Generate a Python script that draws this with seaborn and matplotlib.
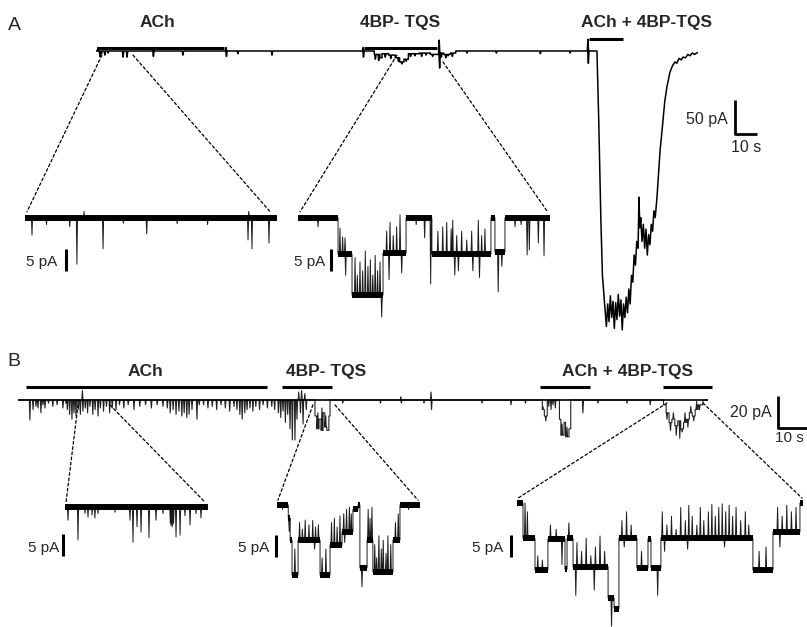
import matplotlib
matplotlib.use("Agg")
import matplotlib.pyplot as plt
from matplotlib.patches import ConnectionPatch
import numpy as np
import pandas as pd
import seaborn as sns

# ---------------- data (time in s, current in pA) ----------------
# panel A, whole recording
a_step_t = [0, 126.5, 129, 130, 133, 136, 138, 140, 142, 147, 152, 156.5, 158, 161, 163.5]
a_step_i = [0, -5, -10, -4, -6, -10, -16, -12, -4, -3, -5, -3, -5, -3, 0]
a_end = 227.7
a_spike_t = [0.9, 1.8, 2.5, 4, 5.5, 12.3, 14.1, 25.9, 26.1, 39.5, 59.1, 59.3, 64.5, 80, 121.4, 121.6,
             127, 128.5, 131.5, 134, 137.5, 139, 141, 143, 145, 148, 150, 153, 156, 156.2,
             157, 159, 160, 162, 168.6, 182, 202, 215.5, 223.6, 223.8]
a_spike_i = [5, -8, -4, -6, -3, -9, -9, 5, -8, -6, 5, -8, -4, -6, 5, -9,
             -12, -14, -9, -11, -15, -19, -15, -8, -7, -8, -6, -8, 16, -25,
             -9, -10, -7, -8, -3, -3, -4, -3, 17, -18]
# macroscopic response to ACh + 4BP-TQS
a_resp_t = [227.7, 228.5, 229.5, 230.2, 231.0, 231.5, 232.0, 232.6, 233.2, 233.8, 234.4, 235.0, 235.6,
            236.2, 236.8, 237.4, 238.0, 238.6, 239.2, 239.8, 240.4, 241.0, 241.6, 242.2, 242.8, 243.4,
            244.0, 244.6, 245.2, 245.8, 246.4, 246.8, 247.2, 247.6, 248.2, 248.8, 249.4, 250.0, 250.6,
            251.2, 251.8, 252.4, 253.0, 253.6, 254.2, 255.0, 255.8, 256.4, 257.5, 258.5, 259.5, 260.9,
            262.0, 263.2, 264.0, 265.0, 266.0, 266.8, 268.0, 269.0, 270.0, 271.0, 272.0, 273.6]
a_resp_i = [0, -100, -250, -330, -365, -385, -405, -372, -398, -360, -392, -368, -408,
            -370, -395, -358, -390, -366, -410, -372, -392, -362, -385, -350, -372, -330,
            -340, -300, -315, -280, -290, -215, -260, -245, -280, -255, -290, -262, -300,
            -270, -285, -255, -265, -235, -245, -215, -175, -146, -110, -75, -53, -31,
            -22, -16, -18, -11, -13, -9, -10, -5, -7, -3, -5, -2]
a_drug_on = [0.9, 121.8, 224.1]
a_drug_off = [58.2, 155, 239.5]
a_drug_y = [4.4, 4.4, 17.2]
a_labels = ["ACh", "4BP- TQS", "ACh + 4BP-TQS"]
a_label_t = [27.7, 138.2, 250.2]

# panel A inset 1 (ACh)
a1_step_t, a1_step_i, a1_end = [0], [0], 14.1
a1_spike_t = [0.39, 1.2, 2.5, 2.9, 3.3, 4.36, 5.5, 6.8, 8.5, 10.2, 12.46, 12.5, 12.68, 13.63]
a1_spike_i = [-3.9, -1.5, -2, -10.5, 1.5, -7, -1.2, -3.6, -1.3, -1.5, -5, 1.5, -7, -5.7]

# panel A inset 2 (4BP-TQS)
a2_step_t = [0, 3.32, 4.48, 7.05, 8.96, 11.1, 16.0, 16.33, 17.16]
a2_step_i = [0, -8.2, -17.5, -8.0, 0, -8.2, 0, -7.7, 0]
a2_end = 20.9
a2_spike_t = [1.66, 3.48, 3.7, 3.9, 3.95, 4.73, 4.92, 5.14, 5.36, 5.58, 5.8, 6.0, 6.2, 6.4, 6.6, 6.8, 6.94,
              7.35, 7.55, 7.63, 7.9, 8.18, 8.46, 8.6, 9.8, 10.5, 11.0, 11.6, 12.0, 12.33, 12.7, 12.83,
              13.0, 13.16, 13.3, 13.57, 13.99, 14.4, 14.5, 14.95, 15.05, 15.23, 15.5, 16.6, 16.9,
              18.0, 18.5, 19.0, 19.18, 19.93, 20.4]
a2_spike_i = [-2, -2.3, -4.3, -4.5, -13, -9, -13, -10, -12, -7.5, -11, -9.5, -13, -8.5, -12, -10, -22.5,
              -3, -14, -1, -4, -2, 0.7, -12.5, -1.5, -4.5, -15, -3, -2, -1, -2.5, -0.5,
              -13, -4, -12, -3, -5, -3, -12, -0.5, -13.5, -4, -2.5, -16.8, -11,
              -2, -1.5, -8.4, -7.3, -5.7, -8.6]

# panel B, whole recording
b_step_t = [0, 102.4, 103, 103.8, 104.5, 105.2, 105.8, 106.5, 107.2, 107.6, 180.8, 181.5, 182.5,
            186.7, 187.2, 188.3, 188.8, 190.0, 190.6, 222.6, 223.5, 224.5, 225.5, 226.5, 227.5,
            228.5, 229.5, 230.5, 231.5, 232.5, 233.5, 234.5, 236.2]
b_step_i = [0, -10, -18, -12, -19, -8, -17, -19, -10, 0, -6, -10, 0,
            -12, -22, -14, -23, -18, 0, -3, -8, -14, -12, -16, -13,
            -18, -14, -12, -8, -10, -6, -3, 0]
b_end = 237.9
b_spike_t = [4.1, 5.2, 6.2, 6.9, 7.9, 8.6, 9.3, 10.5, 12, 13.5, 15.5, 16.5,
             17, 17.8, 18.6, 19.3, 20, 20.8, 21.5, 22.2, 22.4,
             23.2, 24, 24.8, 25.8, 26.6, 27.6, 28.4, 29.5, 30.5, 31.6, 32.5, 33.8,
             35, 36.5, 38, 40, 42, 44, 46, 48, 50,
             51.5, 52.5, 53.5, 54.5, 55.5, 56.5, 57.3, 58.2, 59, 60, 61.7, 62.5,
             64, 65.5, 67, 68.5, 70, 71.5, 73, 74.5,
             75.5, 76.5, 77.3, 78.2, 79, 80, 81, 82, 83.3, 84.5, 86, 87.5, 88.5,
             89.8, 90.6, 91.4, 92.2, 93, 93.8, 94.6, 95.5, 96.2, 96.8, 97.4, 97.8, 98.3, 98.9, 99.4,
             103.4, 104.8, 106.1, 112, 125, 132, 132.2, 140, 142.4, 142.6, 160, 170, 175,
             181, 182, 183, 183.8, 184.5, 185.3, 187.6, 189.3, 194.8, 200, 210, 218,
             223.8, 225, 226, 227, 228.2, 229, 230, 231, 232, 233, 234, 235]
b_spike_i = [-12.5, -6, -4, -5, -8, -3, -5, -2, -4, -3, -5, -2,
             -6, -9, -12, -8, -10, -6, -9, 6, -7,
             -5, -8, -4, -9, -6, -10, -5, -7, -4, -8, -5, -6,
             -3, -5, -3, -6, -4, -3, -5, -3, -4,
             -5, -8, -6, -9, -7, -10, -8, -11, -9, -6, -12, -3,
             -3, -5, -4, -6, -3, -5, -7, -4,
             -6, -9, -12, -8, -6, -5, -7, -4, -6, -3, -5, -4, -6,
             -8, -11, -7, -14, -9, -18, -25, -25, -12, 5, -8, 6, -15, 4, -6,
             -8, -5, -10, -2, -2, 2, -2, -2, 5, -6, -2, -3, -2,
             -4, -13, -4, -6, -3, -5, -15, -17, -8, -2, -2, -3,
             -12, -19, -8, -22, -24, -20, -8, -17, -4, -13, -1, -6]
b_drug_on = [2.76, 91, 180, 222.4]
b_drug_off = [85.9, 108.3, 197.2, 239.3]
b_labels = ["ACh", "4BP- TQS", "ACh + 4BP-TQS"]
b_label_t = [44.1, 106.2, 210]

# panel B inset 1 (ACh)
b1_step_t, b1_step_i, b1_end = [0], [0], 11.0
b1_spike_t = [0.23, 1.0, 1.54, 1.77, 2.08, 2.3, 2.54, 3.85, 5.0, 5.23, 5.54, 5.85, 6.46, 7.0, 7.54,
              8.1, 8.15, 8.2, 8.25, 8.3, 8.35, 8.54, 8.85, 9.23, 9.62, 10.08, 10.46]
b1_spike_i = [-3, -7.5, -1.5, -2.3, -1.8, -2.5, -1.5, -1.2, -3, -8, -4.5, -5.7, -7, -3, -1.5,
              -3.6, -4.2, -3.8, -4.5, -3.9, -3.6, -6.8, -6.4, -2, -4.1, -1.5, -2.5]

# panel B inset 2 (4BP-TQS)
b2_step_t = [0, 0.6, 0.7, 0.8, 1.12, 2.29, 2.82, 3.46, 4.04, 4.31, 4.41, 4.79, 5.1, 6.17, 6.54]
b2_step_i = [0, -3, -8, -15.9, -8, -15.9, -9.1, -6.1, -1, 0, -14.3, -8, -15.2, -8, 0]
b2_end = 7.6
b2_spike_t = [0.3, 0.65, 0.95, 1.2, 1.35, 1.5, 1.7, 1.9, 2.0, 2.05, 2.2, 2.4, 2.6, 2.9, 3.05, 3.2, 3.35,
              3.55, 3.6, 3.7, 3.85, 3.95, 4.52, 4.85, 4.95, 5.05, 5.2, 5.3, 5.42, 5.55, 5.65, 5.8,
              5.9, 6.05, 6.3, 6.45, 7.0]
b2_spike_i = [-1, -6, -10, -4, -5.5, -3.4, -4.5, -3.5, -10, -5, -4.5, -12, -10, -4, -3, -5, -2.5,
              -2, -8.5, -1, -0.5, -2, -18.6, -1, -3, -0.5, -9, -12, -7, -10, -8, -11,
              -7, -9, -4, -2, -1]

# panel B inset 3 (ACh + 4BP-TQS)
b3_step_t = [0, 0.26, 0.78, 1.34, 2.08, 2.17, 2.43, 3.95, 4.21, 4.42, 5.2, 5.68, 5.81, 6.24,
             10.23, 11.1, 12.27]
b3_step_i = [0, -8, -15.2, -8.2, -15, -8, -14.5, -21.6, -24, -8, -14.8, -8.2, -14.8, -8,
             -15.2, -6.6, 0]
b3_end = 12.4
b3_spike_t = [0.35, 0.45, 0.9, 1.1, 1.45, 1.7, 1.95, 2.25, 2.55, 2.6, 2.8, 3.0, 3.2, 3.35, 3.4, 3.6,
              3.8, 4.1, 4.55, 4.65, 4.75, 4.95, 5.4, 6.1, 6.3, 6.4, 6.5, 6.7, 6.9, 7.1, 7.3, 7.4,
              7.45, 7.6, 7.8, 7.95, 8.1, 8.3, 8.45, 8.6, 8.75, 8.9, 9.0, 9.05, 9.2, 9.35, 9.5,
              9.7, 9.9, 10.05, 10.5, 10.8, 11.3, 11.4, 11.5, 11.7, 11.9, 12.1]
b3_spike_i = [0, -2, -12, -13, -5, -6, -14, -4.5, -21, -9, -11, -8, -12, -19.8, -10, -7.5,
              -11, -28, -4, -10, -2, -5, -11, -21, -2, -11, -5, -3, -6, -1, -4, -10.5,
              -0.5, -3, -5, -1, -4, -2, -0.3, -3, -1, -0.2, -10, -2, -0.5, -3, -1,
              -4, -2, -5, -11, -10, -1, -10, -3, -0.5, -2, -1]

# zoom windows: (start, end) in the whole recording, current where the dashed lines leave
a1_win, a1_win_i = (2.7, 16.8), (-6, -6)
a2_win, a2_win_i = (136.8, 157.7), (-6, -16)
b1_win, b1_win_i = (20.7, 31.7), (-3.1, -3.1)
b2_win, b2_win_i = (101.7, 109.3), (-3.1, -3.1)
b3_win, b3_win_i = (223.8, 236.2), (-1.9, -1.9)

# ---------------- drawing ----------------
sns.set_theme(style="white")
plt.rcParams["font.family"] = ["Liberation Sans", "DejaVu Sans"]

W, H = 807, 627
fig = plt.figure(figsize=(W / 100, H / 100), dpi=100)


def trace_axes(x0, y0, sx, sy, xlim, ylim):
    # x0,y0: pixel where t=0 / I=0 ; sx px per s ; sy px per pA
    left, right = x0 + xlim[0] * sx, x0 + xlim[1] * sx
    top, bottom = y0 - ylim[1] * sy, y0 - ylim[0] * sy
    ax = fig.add_axes([left / W, 1 - bottom / H, (right - left) / W, (bottom - top) / H])
    return ax


def build(step_t, step_i, t_end, spike_t, spike_i, w):
    spikes = sorted(zip(spike_t, spike_i))
    bounds = list(step_t) + [t_end]
    tt, ii = [], []
    for k, lvl in enumerate(step_i):
        a, b = bounds[k], bounds[k + 1]
        tt.append(a); ii.append(lvl)
        for st, si in spikes:
            if a <= st < b:
                tt += [st - w, st, st + w]
                ii += [lvl, si, lvl]
        tt.append(b); ii.append(lvl)
    return tt, ii


def draw_line(ax, t, i, lw, color="black"):
    sns.lineplot(x=t, y=i, ax=ax, sort=False, estimator=None, color=color,
                 linewidth=lw, legend=False, solid_capstyle="butt")


def draw_levels(ax, step_t, step_i, t_end, lw):
    bounds = list(step_t) + [t_end]
    rows = []
    for k, lvl in enumerate(step_i):
        rows.append((bounds[k], lvl, k))
        rows.append((bounds[k + 1], lvl, k))
    df = pd.DataFrame(rows, columns=["t", "i", "seg"])
    sns.lineplot(data=df, x="t", y="i", units="seg", estimator=None, sort=False,
                 color="black", linewidth=lw, legend=False, solid_capstyle="butt")


def finish(ax, xlim, ylim):
    ax.set_xlim(*xlim)
    ax.set_ylim(*ylim)
    ax.set_axis_off()


def inset(x0, y0, sx, xlim, ylim, steps_t, steps_i, t_end, sp_t, sp_i, bar_t, bar_i, txt_t, txt_i):
    ax = trace_axes(x0, y0, sx, 4.4, xlim, ylim)
    t, i = build(steps_t, steps_i, t_end, sp_t, sp_i, 0.6 / sx)
    draw_line(ax, t, i, 0.7, "#1c1c1c")
    draw_levels(ax, steps_t, steps_i, t_end, 4.3)
    ax.plot([bar_t, bar_t], [bar_i, bar_i - 5], color="black", lw=2.2,
            solid_capstyle="butt", clip_on=False)
    ax.text(txt_t, txt_i, "5 pA", ha="right", va="center", fontsize=11)
    finish(ax, xlim, ylim)
    return ax


def connect(ax_main, ax_in, win, win_i, in_t, in_i):
    for k in range(2):
        con = ConnectionPatch(xyA=(win[k], win_i[k]), coordsA="data", axesA=ax_main,
                              xyB=(in_t[k], in_i), coordsB="data", axesB=ax_in,
                              color="black", lw=0.9, linestyle=(0, (2.2, 2.0)))
        fig.add_artist(con)


# ---- panel A ----
ax_a = trace_axes(96, 51, 2.2, 0.68, (0, 302), (-420, 25))
a_t, a_i = build(a_step_t, a_step_i, a_end, a_spike_t, a_spike_i, 0.3)
draw_line(ax_a, a_t + a_resp_t, a_i + a_resp_i, 1.1)
for on, off, y in zip(a_drug_on, a_drug_off, a_drug_y):
    ax_a.plot([on, off], [y, y], color="black", lw=2.2, solid_capstyle="butt", clip_on=False)
for lab, t in zip(a_labels, a_label_t):
    ax_a.text(t, 42.6, lab, ha="center", va="center", fontsize=12.5, fontweight="bold")
ax_a.plot([290.5, 290.5, 300.5], [-72, -122, -122], color="black", lw=2,
          solid_capstyle="butt", clip_on=False)
ax_a.text(287.3, -101, "50 pA", ha="right", va="center", fontsize=11.5)
ax_a.text(295.5, -142.6, "10 s", ha="center", va="center", fontsize=11.5)
finish(ax_a, (0, 302), (-420, 25))

ax_a1 = inset(25, 218, 17.9, (0, 14.1), (-14, 3), a1_step_t, a1_step_i, a1_end,
              a1_spike_t, a1_spike_i, 2.29, -7.0, 1.79, -10)
ax_a2 = inset(298, 218, 12.06, (0, 20.9), (-24, 3), a2_step_t, a2_step_i, a2_end,
              a2_spike_t, a2_spike_i, 2.74, -7.0, 2.24, -10)
connect(ax_a, ax_a1, a1_win, a1_win_i, (0.11, 13.7), 1.4)
connect(ax_a, ax_a2, a2_win, a2_win_i, (0.17, 20.7), 1.4)

# ---- panel B ----
ax_b = trace_axes(18, 400, 2.9, 1.6, (0, 272), (-30, 10))
b_t, b_i = build(b_step_t, b_step_i, b_end, b_spike_t, b_spike_i, 0.2)
draw_line(ax_b, b_t, b_i, 0.8, "#222222")
draw_line(ax_b, [0, b_end], [0, 0], 1.2)
for on, off in zip(b_drug_on, b_drug_off):
    ax_b.plot([on, off], [8.1, 8.1], color="black", lw=2.2, solid_capstyle="butt", clip_on=False)
for lab, t in zip(b_labels, b_label_t):
    ax_b.text(t, 18.1, lab, ha="center", va="center", fontsize=12.5, fontweight="bold")
ax_b.plot([262.1, 262.1, 272.1], [2.5, -17.5, -17.5], color="black", lw=2,
          solid_capstyle="butt", clip_on=False)
ax_b.text(260, -7.5, "20 pA", ha="right", va="center", fontsize=11.5)
ax_b.text(261.2, -23.75, "10 s", ha="left", va="center", fontsize=11)
finish(ax_b, (0, 272), (-30, 10))

ax_b1 = inset(65, 507, 13.0, (0, 11.0), (-12, 3), b1_step_t, b1_step_i, b1_end,
              b1_spike_t, b1_spike_i, -0.15, -6.1, -0.46, -9.3)
ax_b2 = inset(277, 505, 18.8, (0, 7.6), (-20, 3), b2_step_t, b2_step_i, b2_end,
              b2_spike_t, b2_spike_i, -0.05, -6.8, -0.43, -9.8)
ax_b3 = inset(517, 503, 23.06, (0, 12.4), (-30, 3), b3_step_t, b3_step_i, b3_end,
              b3_spike_t, b3_spike_i, -0.26, -7.3, -0.61, -10.2)
connect(ax_b, ax_b1, b1_win, b1_win_i, (0.08, 10.77), 1.1)
connect(ax_b, ax_b2, b2_win, b2_win_i, (0.05, 7.5), 1.1)
connect(ax_b, ax_b3, b3_win, b3_win_i, (0.04, 12.36), 1.1)

fig.text(14 / W, 1 - 25 / H, "A", ha="center", va="center", fontsize=14)
fig.text(14 / W, 1 - 361 / H, "B", ha="center", va="center", fontsize=14)

fig.savefig("out.png", dpi=100)
